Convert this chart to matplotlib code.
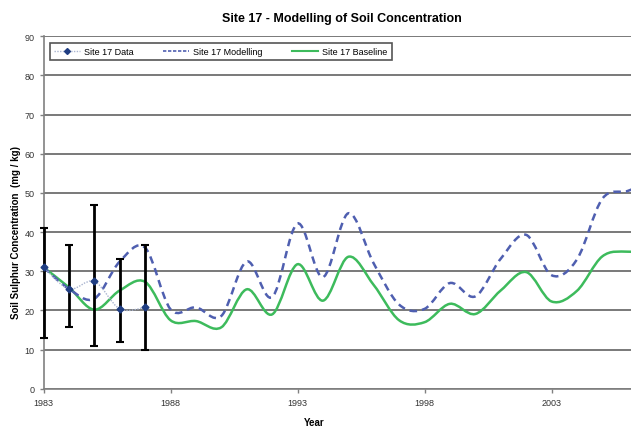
import numpy as np
import matplotlib
matplotlib.use("Agg")
import matplotlib.pyplot as plt
from matplotlib.path import Path
from matplotlib.patches import PathPatch
from matplotlib.lines import Line2D

plt.rcParams['font.family'] = ['Liberation Sans', 'DejaVu Sans']

# measured data with error bars
data_years = [1983, 1984, 1985, 1986, 1987]
data_values = [31.0, 25.5, 27.4, 20.4, 20.8]
data_low = [12.9, 15.9, 11.0, 11.9, 9.8]
data_high = [41.0, 36.8, 47.0, 33.2, 36.8]

# yearly model values (2007 lies past the cropped right edge)
model_years = list(range(1983, 2008))
modelling = [31.0, 25.5, 23.0, 32.5, 36.0, 20.3, 20.8, 18.6, 32.5, 23.4,
             42.2, 28.5, 44.8, 32.0, 21.5, 20.4, 27.0, 23.6, 33.2, 39.3,
             29.0, 33.0, 48.5, 50.5, 53.0]
baseline = [31.0, 25.9, 20.2, 25.1, 27.3, 17.5, 17.3, 15.7, 25.4, 19.0,
            31.8, 22.5, 33.7, 26.5, 17.5, 17.0, 21.7, 19.1, 25.1, 29.8,
            22.3, 25.0, 33.8, 35.0, 34.0]


def smooth_path(x, y):
    # Catmull-Rom style bezier through the points, like a smoothed Excel line
    n = len(x)
    verts = [(x[0], y[0])]
    codes = [Path.MOVETO]
    for i in range(n - 1):
        xa, ya = (x[i - 1], y[i - 1]) if i > 0 else (x[i], y[i])
        xd, yd = (x[i + 2], y[i + 2]) if i + 2 < n else (x[i + 1], y[i + 1])
        c1 = (x[i] + (x[i + 1] - xa) / 6, y[i] + (y[i + 1] - ya) / 6)
        c2 = (x[i + 1] - (xd - x[i]) / 6, y[i + 1] - (yd - y[i]) / 6)
        verts += [c1, c2, (x[i + 1], y[i + 1])]
        codes += [Path.CURVE4] * 3
    return Path(verts, codes)


fig = plt.figure(figsize=(6.31, 4.27), dpi=100)
ax = fig.add_axes([0.069, 0.087, 0.931, 0.826])

ax.set_xlim(1983, 2006.13)
ax.set_ylim(0, 90)
ax.set_yticks(range(0, 91, 10))
ax.set_xticks(range(1983, 2004, 5))
ax.grid(axis='y', color='#6e6e6e', linewidth=1.3)
ax.set_axisbelow(True)
for s in ['top', 'right']:
    ax.spines[s].set_visible(False)
for s in ['left', 'bottom']:
    ax.spines[s].set_color('#808080')
    ax.spines[s].set_linewidth(1.2)
ax.tick_params(axis='both', labelsize=6.5, colors='#808080', labelcolor='#333333',
               length=3, width=1)

blue = '#4f5fb0'
green = '#3dbb5c'

ax.add_patch(PathPatch(smooth_path(model_years, baseline), fill=False,
                       edgecolor=green, linewidth=1.8, zorder=3))
ax.add_patch(PathPatch(smooth_path(model_years, modelling), fill=False,
                       edgecolor=blue, linewidth=1.8, linestyle=(0, (3, 2)), zorder=4))
ax.add_patch(PathPatch(smooth_path(data_years, data_values), fill=False,
                       edgecolor='#a9b4d0', linewidth=1, linestyle=(0, (1, 1)), zorder=5))

yerr = [np.array(data_values) - np.array(data_low), np.array(data_high) - np.array(data_values)]
ax.errorbar(data_years, data_values, yerr=yerr, fmt='none', ecolor='black',
            elinewidth=2, capsize=3, capthick=1.5, zorder=6, clip_on=False)
ax.plot(data_years, data_values, 'D', color='#1f3d82', markersize=3.5, zorder=7,
        clip_on=False)

handles = [
    Line2D([], [], color='#a9b4d0', linewidth=1, linestyle=(0, (1, 1)),
           marker='D', markersize=3, markerfacecolor='#1f3d82', markeredgecolor='#1f3d82'),
    Line2D([], [], color=blue, linewidth=1.2, linestyle=(0, (2, 1))),
    Line2D([], [], color=green, linewidth=1.5),
]
leg = ax.legend(handles, ['Site 17 Data', 'Site 17 Modelling', 'Site 17 Baseline'],
                loc='upper left', bbox_to_anchor=(0.011, 0.98, 0.5816, 0.0),
                mode='expand', borderaxespad=0,
                ncol=3, fontsize=6.5, handlelength=2.9, handletextpad=0.45,
                columnspacing=1.5, fancybox=False, framealpha=1, borderpad=0.45)
leg.get_frame().set_edgecolor('#555555')
leg.get_frame().set_linewidth(1.2)

ax.set_title('Site 17 - Modelling of Soil Concentration', fontsize=9,
             fontweight='bold', pad=11, x=0.508)
ax.set_ylabel('Soil Sulphur Concentration  (mg / kg)', fontsize=7,
              fontweight='bold', labelpad=2)
ax.yaxis.set_label_coords(-0.038, 0.447)
ax.set_xlabel('Year', fontsize=7, fontweight='bold', labelpad=7, x=0.46)

fig.savefig('out.png', dpi=100)
